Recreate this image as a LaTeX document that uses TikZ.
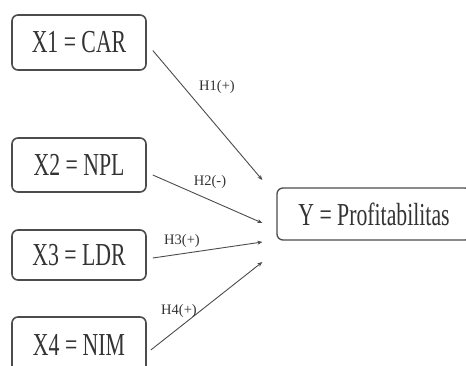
\documentclass[tikz,border=0pt]{standalone}
\usepackage{fontspec}
\setmainfont{Liberation Serif}
\usepackage{graphicx}
\usetikzlibrary{arrows.meta}
\newcommand{\boxtxt}[1]{\scalebox{0.68}[1]{#1}}
\begin{document}
\begin{tikzpicture}[x=1pt,y=-1pt,
  varbox/.style={draw=black!70,line width=1.6pt,rounded corners=6pt,inner sep=0pt,
    font=\fontsize{32}{34}\selectfont,text=black!80},
  hyp/.style={font=\fontsize{14.5}{15}\selectfont,text=black!80,inner sep=1pt},
  link/.style={draw=black!70,line width=0.9pt,-{Stealth[length=5pt,width=4pt]}}]
\useasboundingbox (0,0) rectangle (466,365);
\fill[white] (0,0) rectangle (466,365);
\node[varbox,minimum width=134pt,minimum height=55pt] (x1) at (79,42.5) {\boxtxt{X1 = CAR}};
\node[varbox,minimum width=134pt,minimum height=54pt] (x2) at (79,165) {\boxtxt{X2 = NPL}};
\node[varbox,minimum width=134pt,minimum height=50pt] (x3) at (79,255) {\boxtxt{X3 = LDR}};
\node[varbox,minimum width=134pt,minimum height=56pt] (x4) at (79,345) {\boxtxt{X4 = NIM}};
\node[varbox,line width=1.3pt,minimum width=194pt,minimum height=52pt] (y) at (374,214) {\boxtxt{Y = Profitabilitas}};
\coordinate (e1) at ([shift={(-14,-34)}]y.west);
\coordinate (e2) at ([shift={(-14,9)}]y.west);
\coordinate (e3) at ([shift={(-14,28)}]y.west);
\coordinate (e4) at ([shift={(-14,48)}]y.west);
\draw[link] ([shift={(6,8)}]x1.east) -- (e1);
\draw[link] ([shift={(6,10)}]x2.east) -- (e2);
\draw[link] ([shift={(6,3)}]x3.east) -- (e3);
\draw[link] ([shift={(4,5)}]x4.east) -- (e4);
\node[hyp] (h1) at (217,87) {H1(+)};
\node[hyp] (h2) at (210,182) {H2(-)};
\node[hyp] (h3) at (182,241) {H3(+)};
\node[hyp] (h4) at (179,311) {H4(+)};
\end{tikzpicture}
\end{document}
